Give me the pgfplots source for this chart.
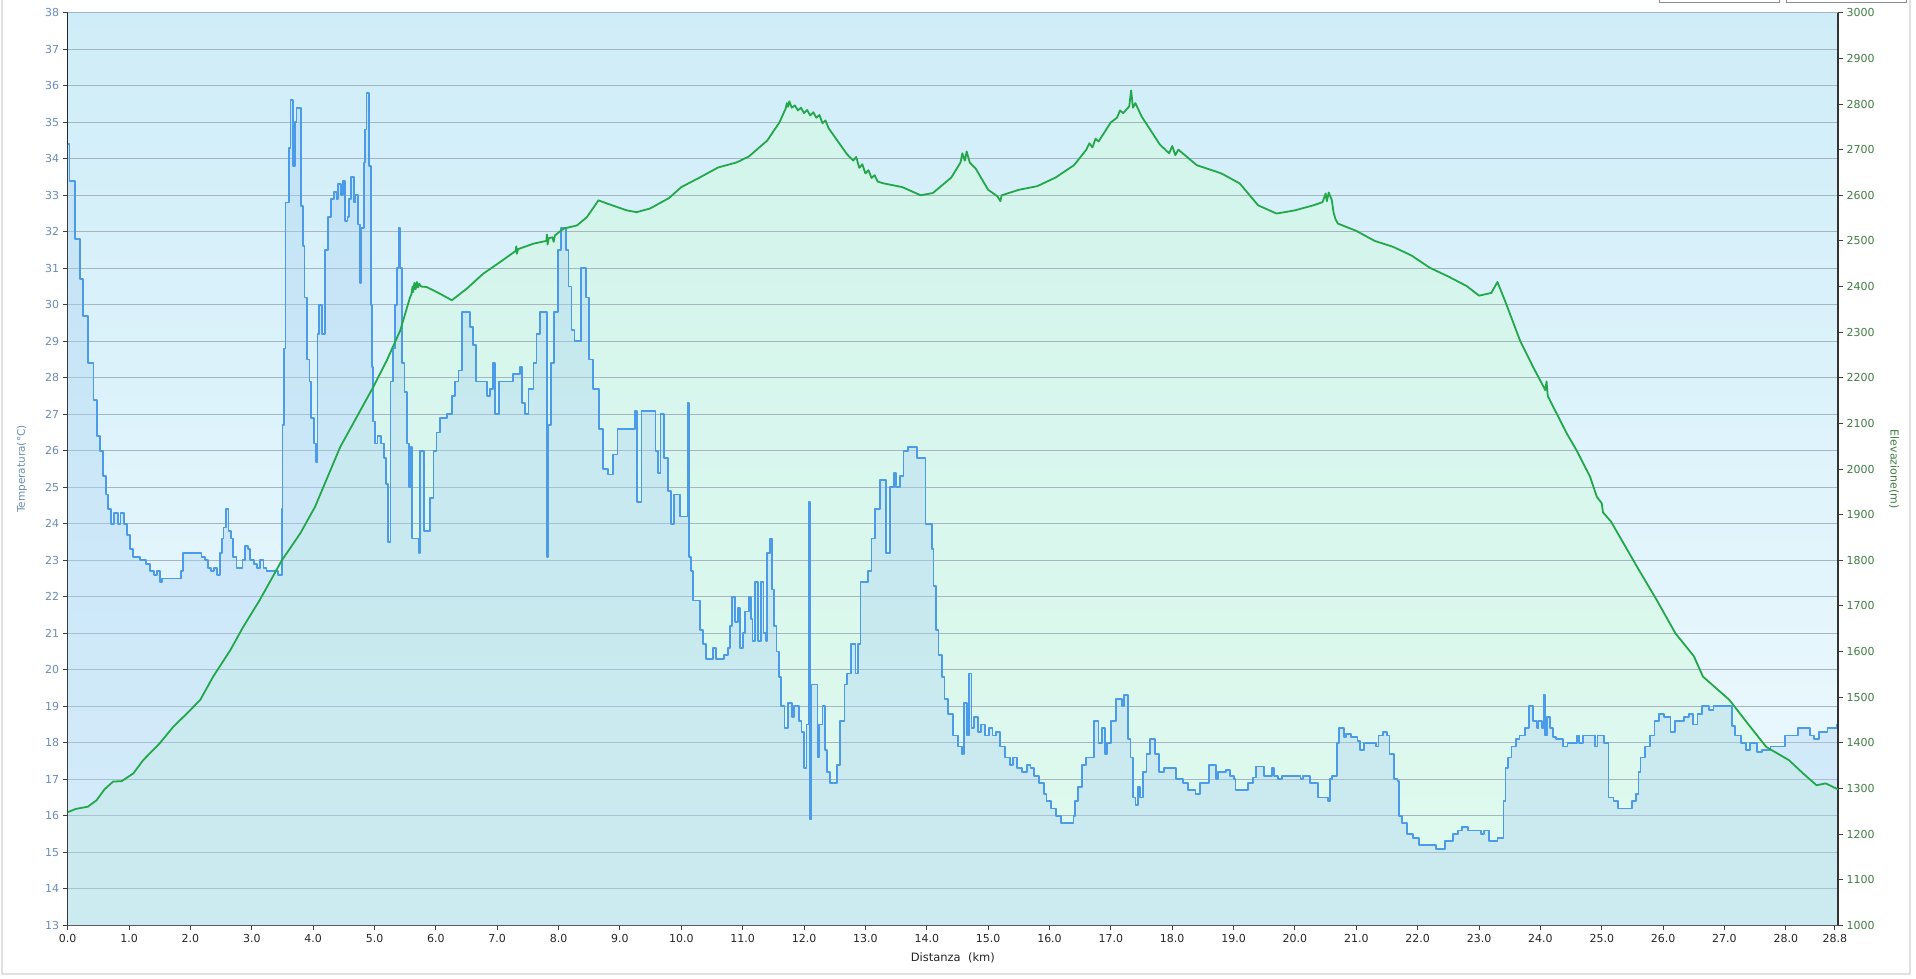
\documentclass[border=0pt]{standalone}
\usepackage{fontspec}
\setmainfont{DejaVu Sans}
\usepackage{pgfplots}
\usepackage{pgfplotstable}
\pgfplotsset{compat=1.18}

\definecolor{bgtop}{HTML}{CFEDF8}
\definecolor{bgbot}{HTML}{EFFAFE}
\definecolor{templine}{HTML}{4C9BE8}
\definecolor{tempfill}{HTML}{A9D2F4}
\definecolor{elevline}{HTML}{22A84A}
\definecolor{elevfill}{HTML}{D4FAE2}
\definecolor{gridc}{HTML}{A6B6BF}
\definecolor{lefttxt}{HTML}{6A8CB4}
\definecolor{righttxt}{HTML}{3F7D42}

\pgfplotstableread{
km t
0.00 34.4
0.03 33.4
0.12 31.8
0.20 30.7
0.25 29.7
0.33 28.4
0.42 27.4
0.48 26.4
0.53 26.0
0.58 25.3
0.62 24.8
0.66 24.4
0.70 24.0
0.76 24.3
0.82 24.0
0.86 24.3
0.92 24.0
0.97 23.7
1.02 23.3
1.06 23.1
1.18 23.0
1.28 22.9
1.34 22.7
1.40 22.6
1.45 22.7
1.50 22.4
1.54 22.5
1.84 22.7
1.88 23.2
2.18 23.1
2.24 23.0
2.28 22.8
2.34 22.7
2.38 22.8
2.43 22.6
2.48 23.2
2.52 23.6
2.54 23.9
2.58 24.4
2.62 23.8
2.66 23.6
2.70 23.1
2.75 22.8
2.81 22.8
2.85 23.0
2.89 23.4
2.94 23.3
2.97 23.0
3.03 22.9
3.08 22.8
3.13 23.0
3.19 22.8
3.24 22.7
3.43 22.6
3.49 24.4
3.50 26.7
3.52 28.8
3.55 32.8
3.60 34.3
3.63 35.6
3.67 33.8
3.70 35.0
3.73 35.4
3.80 32.7
3.83 31.6
3.86 30.2
3.90 28.5
3.94 27.9
3.97 26.9
4.01 26.2
4.04 25.7
4.07 29.2
4.10 30.0
4.14 29.2
4.19 31.5
4.24 32.4
4.29 32.9
4.34 33.1
4.38 32.9
4.41 33.3
4.45 33.0
4.48 33.4
4.52 32.3
4.56 32.4
4.59 32.9
4.62 33.5
4.66 32.8
4.69 33.0
4.73 32.2
4.76 30.6
4.78 32.1
4.83 33.9
4.85 34.8
4.87 35.8
4.91 33.8
4.94 30.0
4.96 28.3
4.98 26.8
5.01 26.2
5.05 26.4
5.10 26.2
5.16 25.8
5.19 25.1
5.22 23.5
5.26 27.9
5.30 28.8
5.33 30.0
5.36 31.0
5.39 32.1
5.42 31.0
5.45 28.4
5.49 27.6
5.53 26.2
5.56 25.0
5.59 26.1
5.61 23.6
5.72 23.2
5.74 26.0
5.80 23.8
5.90 24.7
5.96 26.0
6.01 26.5
6.07 26.9
6.18 27.0
6.26 27.5
6.31 27.9
6.37 28.2
6.42 29.8
6.56 29.4
6.60 28.9
6.66 27.9
6.83 27.5
6.88 27.7
6.93 28.4
6.97 27.0
7.03 27.9
7.26 28.1
7.37 28.3
7.40 27.3
7.45 27.0
7.51 27.7
7.59 28.4
7.64 29.2
7.70 29.8
7.81 23.1
7.83 26.7
7.88 28.4
7.93 29.8
7.99 31.5
8.04 32.1
8.12 31.5
8.16 30.5
8.21 29.3
8.26 29.0
8.37 31.0
8.45 30.2
8.50 28.5
8.56 27.7
8.66 26.6
8.72 25.5
8.80 25.35
8.88 25.9
8.96 26.6
9.24 27.1
9.28 24.6
9.35 27.1
9.58 26.0
9.62 25.4
9.66 27.0
9.72 25.8
9.78 24.9
9.83 24.0
9.88 24.8
9.98 24.2
10.10 27.3
10.12 23.1
10.16 22.7
10.19 21.9
10.30 21.1
10.35 20.7
10.40 20.3
10.52 20.6
10.56 20.3
10.70 20.4
10.76 20.6
10.79 21.2
10.82 22.0
10.88 21.3
10.92 21.7
10.96 20.6
11.00 21.0
11.04 21.6
11.10 22.0
11.13 21.4
11.16 20.8
11.20 22.4
11.25 20.8
11.30 22.4
11.34 21.0
11.38 20.8
11.40 23.2
11.44 23.6
11.48 22.2
11.51 21.2
11.55 20.5
11.59 19.8
11.62 19.0
11.68 18.4
11.74 19.1
11.80 18.7
11.84 19.0
11.92 18.6
11.96 18.3
12.00 17.3
12.04 18.5
12.08 24.6
12.10 15.9
12.12 19.6
12.22 17.6
12.24 18.5
12.30 19.0
12.34 17.8
12.38 17.2
12.42 16.9
12.54 17.4
12.58 18.6
12.66 19.6
12.70 19.9
12.76 20.7
12.84 19.9
12.88 20.7
12.92 22.4
13.04 22.7
13.10 23.6
13.16 24.4
13.24 25.2
13.34 23.2
13.40 25.0
13.46 25.4
13.50 25.0
13.56 25.3
13.62 26.0
13.70 26.1
13.84 25.8
13.98 24.0
14.08 23.3
14.11 22.3
14.15 21.1
14.19 20.4
14.25 19.8
14.29 19.2
14.35 18.8
14.43 18.2
14.51 17.9
14.57 17.7
14.61 19.1
14.65 18.2
14.69 19.9
14.73 18.4
14.77 18.7
14.83 18.3
14.89 18.5
14.95 18.2
15.01 18.4
15.07 18.2
15.13 18.3
15.19 17.9
15.27 17.6
15.35 17.4
15.41 17.6
15.47 17.3
15.55 17.2
15.63 17.4
15.69 17.3
15.75 17.1
15.83 16.9
15.91 16.6
15.95 16.4
16.03 16.2
16.11 16.0
16.19 15.8
16.39 16.0
16.41 16.4
16.47 16.8
16.53 17.4
16.59 17.6
16.72 18.6
16.80 18.0
16.86 18.4
16.90 17.7
16.94 18.0
17.00 18.6
17.08 19.2
17.18 19.0
17.22 19.3
17.28 18.1
17.32 17.6
17.36 16.5
17.40 16.3
17.44 16.8
17.48 16.5
17.52 17.2
17.58 17.7
17.64 18.1
17.72 17.7
17.78 17.2
17.86 17.3
18.06 17.0
18.18 16.9
18.26 16.7
18.38 16.6
18.45 16.9
18.60 17.4
18.71 17.0
18.75 17.2
18.88 17.25
18.94 17.1
19.01 17.0
19.03 16.7
19.23 16.9
19.31 17.05
19.36 17.35
19.49 17.1
19.62 17.3
19.66 17.1
19.72 17.0
19.79 17.1
20.09 17.0
20.13 17.1
20.24 16.9
20.37 16.5
20.54 16.4
20.57 17.0
20.61 17.1
20.69 18.0
20.72 18.4
20.80 18.15
20.83 18.25
20.91 18.15
21.02 18.05
21.06 17.8
21.13 18.0
21.32 17.9
21.36 18.2
21.43 18.3
21.50 18.2
21.54 17.7
21.62 17.0
21.67 16.95
21.69 16.0
21.75 15.8
21.82 15.5
21.92 15.4
22.02 15.2
22.30 15.1
22.44 15.3
22.58 15.5
22.66 15.6
22.72 15.7
22.82 15.6
23.03 15.5
23.08 15.6
23.16 15.3
23.30 15.4
23.40 16.4
23.43 17.3
23.47 17.6
23.53 17.9
23.60 18.1
23.66 18.2
23.75 18.4
23.81 19.0
23.88 18.6
23.94 18.4
23.97 18.6
24.02 18.4
24.05 19.3
24.07 18.2
24.11 18.7
24.15 18.4
24.20 18.15
24.26 18.1
24.37 17.9
24.44 18.0
24.59 18.2
24.63 18.0
24.70 18.2
24.89 17.9
24.93 18.2
25.04 18.0
25.11 16.5
25.19 16.4
25.26 16.2
25.49 16.4
25.56 16.6
25.60 17.2
25.63 17.6
25.71 17.9
25.78 18.2
25.86 18.6
25.93 18.8
26.01 18.7
26.12 18.3
26.19 18.6
26.34 18.7
26.42 18.8
26.49 18.5
26.56 18.8
26.64 19.0
26.75 18.9
26.82 19.0
27.12 18.45
27.17 18.2
27.27 18.0
27.35 17.8
27.42 18.0
27.53 17.75
27.61 17.8
27.75 17.9
27.98 18.2
28.20 18.4
28.39 18.2
28.46 18.1
28.54 18.3
28.68 18.4
28.83 18.5
28.85 18.5
}\temptable

\pgfplotstableread{
km e
0.00 1248
0.13 1255
0.33 1260
0.47 1274
0.60 1298
0.74 1315
0.88 1316
1.07 1333
1.23 1362
1.50 1399
1.72 1435
1.94 1464
2.16 1494
2.37 1545
2.65 1603
2.86 1654
3.13 1713
3.49 1800
3.79 1859
4.03 1917
4.44 2048
4.71 2114
4.98 2180
5.20 2238
5.42 2304
5.58 2377
5.60 2382
5.62 2400
5.63 2388
5.65 2408
5.67 2394
5.69 2410
5.71 2398
5.73 2406
5.76 2400
5.85 2399
6.07 2384
6.26 2370
6.50 2395
6.77 2428
7.05 2454
7.30 2478
7.31 2488
7.32 2472
7.34 2482
7.59 2494
7.80 2500
7.81 2514
7.82 2492
7.84 2506
7.90 2508
7.92 2498
7.94 2512
8.08 2527
8.30 2534
8.46 2552
8.65 2589
8.79 2582
9.11 2567
9.27 2563
9.49 2571
9.80 2594
10.00 2618
10.30 2639
10.60 2661
10.90 2672
11.10 2685
11.40 2720
11.60 2760
11.70 2790
11.72 2802
11.74 2794
11.76 2806
11.80 2792
11.85 2797
11.90 2786
11.95 2792
12.00 2780
12.05 2787
12.10 2775
12.15 2782
12.20 2770
12.25 2776
12.30 2758
12.35 2764
12.40 2747
12.50 2728
12.70 2690
12.80 2676
12.85 2684
12.90 2660
12.95 2668
13.00 2648
13.05 2655
13.10 2638
13.15 2644
13.20 2630
13.30 2626
13.60 2618
13.90 2600
14.10 2605
14.40 2639
14.55 2672
14.58 2692
14.62 2676
14.65 2696
14.70 2672
14.80 2658
15.00 2612
15.15 2598
15.20 2587
15.22 2600
15.50 2612
15.80 2620
16.10 2639
16.40 2666
16.60 2700
16.65 2714
16.70 2705
16.75 2724
16.80 2718
17.00 2760
17.10 2770
17.15 2786
17.20 2780
17.30 2795
17.33 2830
17.36 2792
17.40 2802
17.50 2773
17.80 2711
17.95 2692
18.00 2708
18.05 2688
18.10 2700
18.40 2666
18.80 2648
19.10 2626
19.40 2578
19.70 2560
20.00 2567
20.30 2578
20.45 2585
20.50 2604
20.52 2587
20.55 2606
20.60 2590
20.63 2562
20.66 2548
20.70 2538
21.00 2522
21.30 2500
21.60 2487
21.90 2468
22.20 2441
22.50 2422
22.80 2401
23.00 2380
23.20 2386
23.30 2410
23.42 2370
23.67 2281
23.88 2224
24.08 2173
24.10 2192
24.12 2160
24.43 2078
24.59 2041
24.81 1983
24.92 1939
25.00 1925
25.02 1905
25.15 1885
25.60 1780
25.90 1712
26.20 1640
26.50 1590
26.65 1545
27.08 1494
27.38 1442
27.68 1391
28.05 1362
28.28 1333
28.50 1307
28.65 1311
28.85 1298
}\elevtable

\pgfplotsset{
  myax/.style={
    at={(67.7pt,52.7pt)}, anchor=south west,
    width=1770.3pt, height=912.5pt, scale only axis,
    xmin=0, xmax=28.85,
    tick label style={font=\fontsize{11}{13}\selectfont},
    /pgf/number format/assume math mode=true,
    /pgf/number format/1000 sep={},
    tick align=outside, major tick length=5pt,
  }
}

\begin{document}
\begin{tikzpicture}
\useasboundingbox (0pt,0pt) rectangle (1916pt,978pt);
\draw[color=black!12, line width=1.5pt] (2pt,4pt) rectangle (1910pt,1000pt);
\draw[color=black!45, line width=0.8pt] (1659pt,976pt) rectangle (1779pt,1000pt);
\draw[color=black!45, line width=0.8pt] (1786pt,976pt) rectangle (1906pt,1000pt);

% background + elevation area
\begin{axis}[myax, ymin=1000, ymax=3000,
  axis background/.style={shade, top color=bgtop, bottom color=bgbot},
  axis line style={draw=gridc, line width=1pt}, ticks=none]
\addplot[fill=elevfill, fill opacity=0.55, draw=none] table[x=km, y=e]{\elevtable} \closedcycle;
\end{axis}

% temperature
\begin{axis}[myax, ymin=13, ymax=38,
  axis x line*=bottom, axis y line*=left,
  x axis line style={draw=black!70, line width=1pt},
  y axis line style={draw=black!85, line width=1.2pt},
  tick style={draw=black!75, line width=1pt},
  ytick={13,14,...,38},
  xtick={0,1,...,28,28.8},
  xticklabels={0.0,1.0,2.0,3.0,4.0,5.0,6.0,7.0,8.0,9.0,10.0,11.0,12.0,13.0,14.0,15.0,16.0,17.0,18.0,19.0,20.0,21.0,22.0,23.0,24.0,25.0,26.0,27.0,28.0,28.8},
  xticklabel style={black!85},
  yticklabel style={lefttxt},
  ymajorgrids, grid style={draw=gridc, line width=1.2pt},
  xlabel={Distanza\ \ (km)},
  xlabel style={at={(axis description cs:0.5,0)}, anchor=center, yshift=-33pt, font=\fontsize{11.5}{13}\selectfont, black!85},
  ylabel={Temperatura(°C)},
  ylabel style={at={(axis description cs:-0.0258,0.5)}, anchor=center, font=\fontsize{10.5}{12}\selectfont, lefttxt},
]
\addplot[const plot mark left, fill=tempfill, fill opacity=0.36, draw=none] table[x=km, y=t]{\temptable} \closedcycle;
\addplot[const plot mark left, draw=templine, line width=1.8pt, line join=round] table[x=km, y=t]{\temptable};
\end{axis}

% elevation line and right axis
\begin{axis}[myax, ymin=1000, ymax=3000,
  axis x line=none, axis y line*=right,
  y axis line style={draw=black!80, line width=1.2pt},
  tick style={draw=black!75, line width=1pt},
  ytick={1000,1100,...,3000},
  yticklabel style={righttxt},
  ylabel={Elevazione(m)},
  ylabel style={at={(axis description cs:1.0316,0.5)}, anchor=center, rotate=180, font=\fontsize{11}{13}\selectfont, righttxt},
]
\addplot[draw=elevline, line width=1.8pt, line join=round] table[x=km, y=e]{\elevtable};
\end{axis}
\end{tikzpicture}
\end{document}
